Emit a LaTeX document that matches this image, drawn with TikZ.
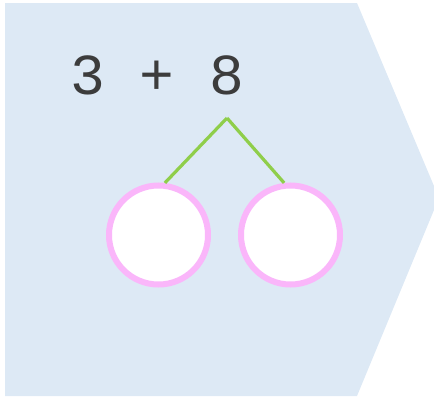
\documentclass[tikz,border=0pt]{standalone}
\usepackage{fontspec}
\newfontfamily\sumfont{Liberation Mono}
\usetikzlibrary{positioning}
\definecolor{bgblue}{RGB}{221,233,245}
\definecolor{stemgreen}{RGB}{143,206,74}
\definecolor{ringpink}{RGB}{250,182,250}
\definecolor{textgray}{RGB}{60,60,60}

\begin{document}
\begin{tikzpicture}[x=1pt,y=-1pt,
    ring/.style={circle,draw=ringpink,line width=6pt,fill=white,minimum size=99pt,inner sep=0pt},
    stem/.style={stemgreen,line width=3.2pt}]
        % Picture size
        \useasboundingbox (0,0) rectangle (434,399);
        % Background arrow
        \fill[bgblue] (5,3) -- (357,3) -- (434,186) -- (434,210) -- (357,396) -- (5,396) -- cycle;
        % The sum
        \node[anchor=base west,inner sep=0pt,text=textgray,font=\sumfont\fontsize{58}{58}\selectfont] (sum) at (70,94) {3 + 8};
        % Define points
        \coordinate (top) at (227,118);
        \node[ring] (left) at (158.5,235) {};
        \node[ring] (right) at (290.5,235) {};
        % Stems
        \draw[stem] (top) -- (left.83);
        \draw[stem] (top) -- (right.97);
\end{tikzpicture}
\end{document}
